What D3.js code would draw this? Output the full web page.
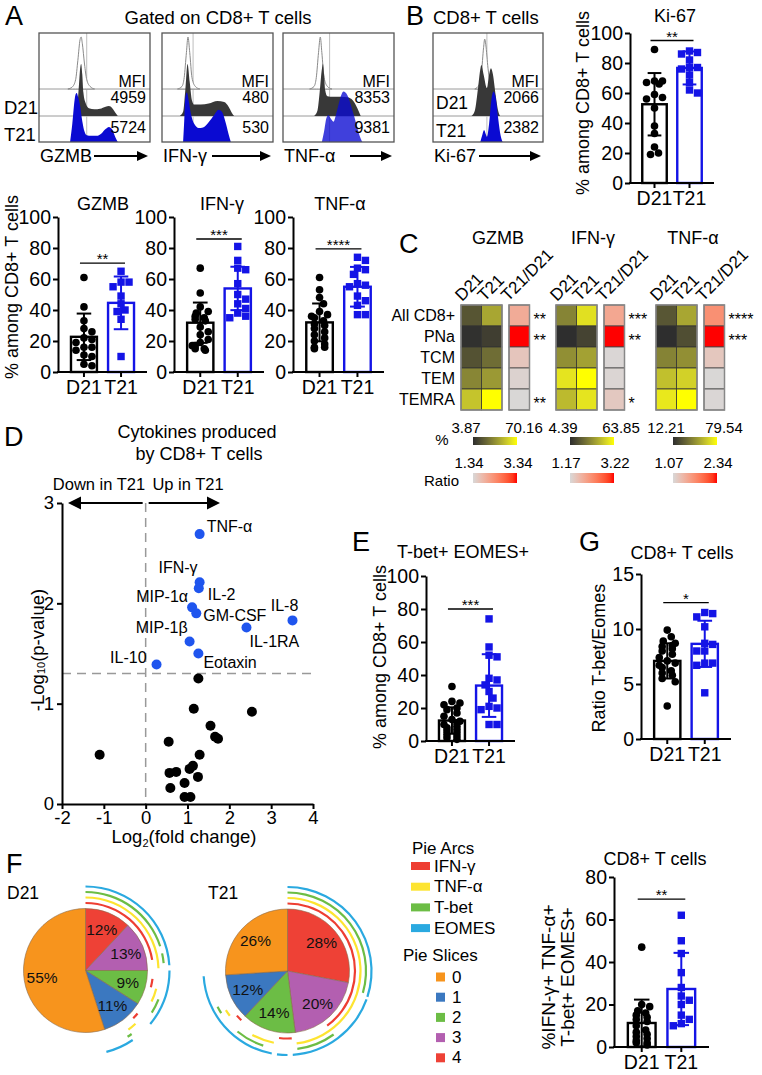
<!DOCTYPE html>
<html>
<head>
<meta charset="utf-8">
<script src="https://cdn.jsdelivr.net/npm/d3@7"></script>
<style>
html,body{margin:0;padding:0;background:#fff;}
svg{display:block;}
</style>
</head>
<body>
<svg id="fig" width="762" height="1075" xmlns="http://www.w3.org/2000/svg"></svg>
<script>
// ======================= DATA =======================
const groups = ["D21", "T21"];

// Panel A / B flow histograms: [fluorescence channel 0-100, relative count 0-100]
const gzmbIso = [[26,0],[30,4],[33,18],[35,55],[37,95],[38,100],[39,88],[41,48],[43,18],[46,5],[50,0]];
const gzmbD21h = [[32,0],[34,10],[36,60],[37,90],[38,100],[39,80],[40,45],[42,25],[45,15],[50,13],[55,14],[60,18],[63,19],[66,15],[69,6],[71,0]];
const gzmbT21h = [[28,0],[30,35],[32,80],[33,92],[34,94],[35,88],[37,70],[39,40],[41,20],[43,13],[47,12],[52,12],[56,16],[60,25],[63,29],[66,24],[69,8],[71,0]];
const ifngIso = [[14,0],[18,5],[20,22],[22,70],[23.4,100],[25,70],[27,22],[30,5],[34,0]];
const ifngD21h = [[16,0],[19,8],[21,50],[23,100],[25,65],[27,30],[29,22],[35,22],[42,24],[50,29],[56,27],[60,18],[63,6],[65,0]];
const ifngT21h = [[19,0],[20,40],[21,85],[22.4,95],[24,80],[26,55],[29,35],[33,27],[37,28],[42,38],[47,52],[51,62],[54,58],[57,40],[60,15],[62,0]];
const tnfIso = [[24,0],[28,5],[30,22],[32,70],[33.6,100],[35,70],[37,22],[40,5],[44,0]];
const tnfD21h = [[28,0],[31,10],[33,45],[35,90],[36,100],[37,80],[38,50],[40,38],[45,37],[52,37],[58,36],[63,30],[67,15],[70,0]];
const tnfT21h = [[35,0],[37,20],[39,45],[41,52],[43,45],[45.5,39],[48,55],[51,80],[54.5,97],[58,90],[62,65],[66,35],[69,12],[71.5,0]];
const ki67Iso = [[38,0],[42,8],[44,30],[46,80],[47,96],[48,85],[50,40],[52,10],[54,0]];
const ki67D21h = [[35,0],[38,10],[41,55],[43,90],[44,98],[46,80],[49,54],[51,80],[52.7,92],[54.5,80],[57,40],[59,12],[61,0]];
const ki67T21h = [[43,0],[45,15],[46.4,23],[48,15],[49,10],[51,35],[53,80],[55,97],[57,85],[59,50],[61,18],[63.3,0]];
const histMarkers = ["GZMB", "IFN-γ", "TNF-α"];
const histGates = [43, 28, 42];
const mfiD21 = ["4959", "480", "8353"];
const mfiT21 = ["5724", "530", "9381"];
const ki67Gate = 49;
const ki67Mfi = ["2066", "2382"];

// Dot/bar panels: means, SDs, individual values
const gzmbMean = [22.7, 44.6], gzmbSD = [15, 17];
const gzmbD21 = [61, 42, 33, 28, 26, 22, 21, 19, 16, 16, 14, 11, 10, 5, 4];
const gzmbT21 = [65, 58, 58, 55, 49, 44, 40, 39, 34, 10];
const ifngMean = [31.8, 53.9], ifngSD = [13, 14];
const ifngD21 = [67, 51, 42, 39, 38, 36, 35, 34, 33, 29, 26, 24, 21, 19, 17, 15, 17, 15, 14];
const ifngT21 = [81, 72, 67, 66, 57, 50, 47, 44, 41, 38, 36, 35];
const tnfMean = [32, 55], tnfSD = [12.2, 12.8];
const tnfD21 = [61, 53, 48, 44, 39, 37, 36, 35, 33, 31, 30, 28, 26, 24, 22, 20, 18, 16, 16, 15];
const tnfT21 = [74, 72, 67, 66, 63, 57, 56, 55, 49, 46, 43, 37, 37];
const ki67Mean = [52.5, 76.7], ki67SD = [20.8, 11];
const ki67D21 = [89, 68, 68, 67, 66, 59, 57, 56, 50, 38, 33, 24, 20, 19];
const ki67T21 = [88, 87, 86, 82, 77, 77, 76, 72, 67, 62, 60];
const eMean = [12.4, 33.6], eSD = [8, 19];
const eD21 = [33, 24, 23, 22, 20, 19, 17, 15, 13, 12, 11, 10, 9, 8, 7, 6, 5, 4, 3, 2, 1];
const eT21 = [74, 57, 52, 51, 38, 37, 34, 30, 26, 21, 20, 19, 10, 10];
const gMean = [7.1, 8.65], gSD = [1.6, 2.1];
const gD21 = [9.9, 9.3, 8.9, 8.7, 8.5, 8.4, 8.2, 8.0, 7.7, 7.4, 7.1, 6.9, 6.7, 6.5, 6.2, 6.0, 5.8, 5.5, 5.2, 3.0];
const gT21 = [11.5, 11.4, 11.1, 10.2, 8.7, 8.6, 8.0, 8.0, 6.9, 6.7, 6.9, 4.2];
const fMean = [11.3, 27.3], fSD = [11, 17];
const fD21 = [47, 20, 19, 17, 16, 15, 14, 13, 12, 10, 8, 7, 6, 5, 4, 3, 2, 2, 1];
const fT21 = [62, 50, 44, 35, 28, 24, 22, 20, 15, 13, 11, 10];
const pctTicks = [0, 20, 40, 60, 80, 100];
const ratioTicks = [0, 5, 10, 15];
const fTicks = [0, 20, 40, 60, 80];

// Panel C heatmap
const hmRows = ["All CD8+", "PNa", "TCM", "TEM", "TEMRA"];
const hmMarkers = ["GZMB", "IFN-γ", "TNF-α"];
const hmGzmbD21 = [18, 5, 17, 34, 53];
const hmGzmbT21 = [44, 10, 26, 40, 70.16];
const hmGzmbRatio = [1.95, 3.34, 1.6, 1.42, 1.36];
const hmGzmbStars = ["**", "**", "", "", "**"];
const hmIfngD21 = [31, 4.39, 34, 57, 46];
const hmIfngT21 = [56, 11.5, 39, 63.85, 57];
const hmIfngRatio = [1.85, 3.22, 1.2, 1.22, 1.4];
const hmIfngStars = ["***", "**", "", "", "*"];
const hmTnfD21 = [27, 12.21, 42, 61, 73];
const hmTnfT21 = [53, 24, 46, 66, 79.54];
const hmTnfRatio = [1.68, 2.34, 1.22, 1.08, 1.09];
const hmTnfStars = ["****", "***", "", "", ""];
const hmPctRange = [[3.87, 70.16], [4.39, 63.85], [12.21, 79.54]];
const hmRatioRange = [[1.34, 3.34], [1.17, 3.22], [1.07, 2.34]];

// Panel D volcano
const volcNames = ["TNF-α", "IFN-γ", "IL-2", "MIP-1α", "GM-CSF", "IL-1RA", "IL-8", "MIP-1β", "Eotaxin", "IL-10"];
const volcSigFC = [1.29, 1.29, 1.27, 1.11, 1.21, 2.41, 3.51, 1.05, 1.26, 0.26];
const volcSigP = [2.69, 2.21, 2.15, 1.96, 1.90, 1.76, 1.83, 1.62, 1.50, 1.39];
const volcNsFC = [1.26, 1.15, 2.54, 1.55, 1.66, 1.73, 0.55, -1.10, 1.29, 0.57, 0.73, 1.05, 1.13, 1.25, 0.93, 0.59, 0.93, 1.07];
const volcNsP = [1.25, 0.95, 0.92, 0.78, 0.67, 0.65, 0.62, 0.49, 0.49, 0.31, 0.32, 0.35, 0.38, 0.27, 0.21, 0.16, 0.07, 0.07];
const volcThreshold = 1.301;

// Panel F SPICE pies (% of cells by number of positive markers 0..4)
const pieCats = ["0", "1", "2", "3", "4"];
const pieD21 = [55, 11, 9, 13, 12];
const pieT21 = [26, 12, 14, 20, 28];
const arcMarkers = ["IFN-γ", "TNF-α", "T-bet", "EOMES"];
// arc segments as fractions of the circle (clockwise from 12 o'clock)
const d21ArcIFN = [[0, 0.225], [0.27, 0.29], [0.36, 0.375]];
const d21ArcTNF = [[0, 0.245], [0.29, 0.32], [0.38, 0.40]];
const d21ArcTbet = [[0, 0.20], [0.215, 0.235], [0.31, 0.34], [0.40, 0.41]];
const d21ArcEOMES = [[0, 0.24], [0.25, 0.36], [0.405, 0.46]];
const t21ArcIFN = [[0, 0.40], [0.49, 0.52], [0.62, 0.635]];
const t21ArcTNF = [[0, 0.48], [0.53, 0.58], [0.645, 0.66]];
const t21ArcTbet = [[0, 0.295], [0.40, 0.48], [0.55, 0.61], [0.66, 0.675]];
const t21ArcEOMES = [[0, 0.30], [0.305, 0.49], [0.50, 0.52], [0.53, 0.74]];

// ======================= DRAWING =======================
const FR = "'Liberation Sans', Arial, Helvetica, sans-serif";
const FN = "'Liberation Sans Narrow', 'Arial Narrow', 'Liberation Sans', Arial, sans-serif";
const BLUE = "#1414e6";
const svg = d3.select("#fig");
svg.append("rect").attr("width", 762).attr("height", 1075).attr("fill", "#fff");
const defs = svg.append("defs");

function txt(g, x, y, s, o = {}) {
  const t = g.append("text").attr("x", x).attr("y", y).text(s)
    .attr("font-family", o.ff || FR).attr("font-size", o.fs || 18)
    .attr("text-anchor", o.anchor || "start").attr("fill", o.fill || "#000");
  if (o.rot) t.attr("transform", `rotate(${o.rot},${x},${y})`);
  if (o.db) t.attr("dominant-baseline", o.db);
  return t;
}
function arrow(g, xa, xb, y, sw = 2, hl = 11, hw = 5) {
  const dir = Math.sign(xb - xa);
  g.append("line").attr("x1", xa).attr("x2", xb - dir * hl).attr("y1", y).attr("y2", y)
    .attr("stroke", "#000").attr("stroke-width", sw);
  g.append("path").attr("d", `M${xb},${y}L${xb - dir * hl},${y - hw}L${xb - dir * hl},${y + hw}Z`).attr("fill", "#000");
}

// panel letters
[["A", 5, 25], ["B", 406, 25], ["C", 399, 253], ["D", 4, 446], ["E", 352, 551], ["G", 579, 551], ["F", 6, 873]]
  .forEach(([l, x, y]) => txt(svg, x, y, l, { fs: 27 }));

// ---------- Histograms ----------
function histBox(c) {
  const g = svg.append("g");
  const x = d3.scaleLinear().domain([0, 100]).range([c.x0, c.x1]);
  const h = d3.scaleLinear().domain([0, 100]).range([0, 52]);
  const id = "clip" + c.id;
  defs.append("clipPath").attr("id", id).append("rect")
    .attr("x", c.x0).attr("y", c.yTop).attr("width", c.x1 - c.x0).attr("height", c.yBot - c.yTop);
  const inner = g.append("g").attr("clip-path", `url(#${id})`);
  [c.yL1, c.yL2].forEach(yy => inner.append("line").attr("x1", c.x0).attr("x2", c.x1)
    .attr("y1", yy).attr("y2", yy).attr("stroke", "#9a9a9a").attr("stroke-width", 1));
  inner.append("line").attr("x1", x(c.gate)).attr("x2", x(c.gate)).attr("y1", c.yTop).attr("y2", c.yBot)
    .attr("stroke", "#bdbdbd").attr("stroke-width", 1);
  const area = base => d3.area().x(d => x(d[0])).y0(base).y1(d => base - h(d[1])).curve(d3.curveMonotoneX);
  inner.append("path").datum(c.iso).attr("d", area(c.yL1)).attr("fill", "#fff").attr("stroke", "#8a8a8a").attr("stroke-width", 1);
  inner.append("path").datum(c.d21).attr("d", area(c.yL2)).attr("fill", "#383838");
  inner.append("path").datum(c.t21).attr("d", area(c.yBot)).attr("fill", "#0a0ad2").attr("fill-opacity", c.op);
  g.append("rect").attr("x", c.x0).attr("y", c.yTop).attr("width", c.x1 - c.x0).attr("height", c.yBot - c.yTop)
    .attr("fill", "none").attr("stroke", "#555").attr("stroke-width", 1.3);
  txt(g, c.x1 - 4, 87, "MFI", { anchor: "end", fs: 16 });
  txt(g, c.x1 - 4, 103, c.mfi[0], { anchor: "end", fs: 16 });
  txt(g, c.x1 - 4, 133, c.mfi[1], { anchor: "end", fs: 16 });
  txt(g, c.x0 + 1, 162, c.label, { fs: 18 });
  arrow(g, c.arrowX, c.x1 - 2, 156);
  return g;
}
const histIso = [gzmbIso, ifngIso, tnfIso], histD = [gzmbD21h, ifngD21h, tnfD21h], histT = [gzmbT21h, ifngT21h, tnfT21h];
const histX0 = [39, 162, 283], histArrowX = [94, 212, 350], histOp = [1, 1, 0.78];
histMarkers.forEach((m, i) => histBox({
  id: i, x0: histX0[i], x1: histX0[i] + 111, yTop: 33, yL1: 89, yL2: 116, yBot: 142,
  iso: histIso[i], d21: histD[i], t21: histT[i], gate: histGates[i], op: histOp[i],
  mfi: [mfiD21[i], mfiT21[i]], label: m, arrowX: histArrowX[i]
}));
txt(svg, 4, 114, "D21", { fs: 18.5 });
txt(svg, 4, 141, "T21", { fs: 18.5 });
txt(svg, 218, 24, "Gated on CD8+ T cells", { anchor: "middle", fs: 18.5 });

const kb = histBox({
  id: "k", x0: 433, x1: 543, yTop: 33, yL1: 89, yL2: 116, yBot: 142,
  iso: ki67Iso, d21: ki67D21h, t21: ki67T21h, gate: ki67Gate, op: 1,
  mfi: ki67Mfi, label: "Ki-67", arrowX: 479
});
txt(kb, 436, 109, "D21", { fs: 17.5 });
txt(kb, 436, 137, "T21", { fs: 17.5 });
txt(svg, 433, 24, "CD8+ T cells", { fs: 18.5 });

// ---------- Dot + bar charts ----------
function swarm(vals, y, cx, r, maxOff) {
  const pts = vals.map(v => ({ v, py: y(v) })).sort((a, b) => a.py - b.py);
  const placed = [];
  pts.forEach(p => {
    const steps = [0];
    for (let k = 1; k <= 8; k++) steps.push(k * r * 1.05, -k * r * 1.05);
    for (const dx of steps) {
      if (Math.abs(dx) > maxOff) continue;
      if (placed.every(q => Math.hypot(q.px - (cx + dx), q.py - p.py) >= 2 * r * 0.92)) { p.px = cx + dx; break; }
    }
    if (p.px === undefined) p.px = cx + (placed.length % 2 ? -1 : 1) * maxOff * 0.5;
    placed.push(p);
  });
  return placed;
}
function dotBar(c) {
  const g = svg.append("g");
  const x = d3.scaleBand().domain(groups).range([c.axisX, c.axisX + c.plotW]).paddingInner(0.3).paddingOuter(0.35);
  const y = d3.scaleLinear().domain([0, c.ymax]).range([c.y0, c.yTop]);
  const bw = x.bandwidth();
  const cols = ["#000", BLUE];
  g.selectAll("rect.bar").data(groups).join("rect").attr("class", "bar")
    .attr("x", d => x(d)).attr("width", bw)
    .attr("y", (d, i) => y(c.mean[i])).attr("height", (d, i) => y(0) - y(c.mean[i]))
    .attr("fill", "none").attr("stroke", (d, i) => cols[i]).attr("stroke-width", 2.4);
  groups.forEach((grp, i) => {
    const cx = x(grp) + bw / 2;
    const placed = swarm(c.pts[i], y, cx, 3.8, bw / 2 - 3);
    if (i === 0) {
      g.selectAll(null).data(placed).join("circle").attr("cx", d => d.px).attr("cy", d => d.py).attr("r", 3.8).attr("fill", "#000");
    } else {
      g.selectAll(null).data(placed).join("rect").attr("x", d => d.px - 3.7).attr("y", d => d.py - 3.7)
        .attr("width", 7.4).attr("height", 7.4).attr("fill", BLUE);
    }
    const lo = y(Math.max(0, c.mean[i] - c.sd[i])), hi = y(c.mean[i] + c.sd[i]);
    g.append("line").attr("x1", cx).attr("x2", cx).attr("y1", lo).attr("y2", hi).attr("stroke", cols[i]).attr("stroke-width", 2);
    [lo, hi].forEach(yy => g.append("line").attr("x1", cx - bw * 0.28).attr("x2", cx + bw * 0.28)
      .attr("y1", yy).attr("y2", yy).attr("stroke", cols[i]).attr("stroke-width", 2));
  });
  const ya = g.append("g").attr("transform", `translate(${c.axisX},0)`)
    .call(d3.axisLeft(y).tickValues(c.ticks).tickSize(5).tickPadding(2).tickSizeOuter(0));
  ya.select(".domain").attr("stroke-width", 2);
  ya.selectAll(".tick line").attr("stroke-width", 2);
  ya.selectAll(".tick text").attr("font-family", FN).attr("font-size", 19.5).attr("fill", "#000");
  g.append("line").attr("x1", c.axisX - 1).attr("x2", c.axisX + c.plotW).attr("y1", c.y0).attr("y2", c.y0)
    .attr("stroke", "#000").attr("stroke-width", 2);
  groups.forEach(grp => {
    const cx = x(grp) + bw / 2;
    g.append("line").attr("x1", cx).attr("x2", cx).attr("y1", c.y0).attr("y2", c.y0 + 5).attr("stroke", "#000").attr("stroke-width", 2);
    txt(g, cx, c.y0 + 22, grp, { anchor: "middle", ff: FN, fs: 19.5 });
  });
  const c1 = x("D21") + bw / 2, c2 = x("T21") + bw / 2, sy = y(c.sig[0]);
  g.append("line").attr("x1", c1 - 4).attr("x2", c2 + 4).attr("y1", sy).attr("y2", sy).attr("stroke", "#000").attr("stroke-width", 1.3);
  txt(g, (c1 + c2) / 2, sy + 1, c.sig[1], { anchor: "middle", fs: 15 });
  if (c.title) txt(g, c.title[1], c.title[2], c.title[0], { anchor: "middle", fs: 18 });
  return g;
}
dotBar({ axisX: 58, plotW: 89, y0: 372, yTop: 217, ymax: 100, ticks: pctTicks, mean: gzmbMean, sd: gzmbSD,
  pts: [gzmbD21, gzmbT21], sig: [70.3, "**"], title: ["GZMB", 103, 210] });
dotBar({ axisX: 174, plotW: 90, y0: 372, yTop: 217, ymax: 100, ticks: pctTicks, mean: ifngMean, sd: ifngSD,
  pts: [ifngD21, ifngT21], sig: [85.8, "***"], title: ["IFN-γ", 222, 210] });
dotBar({ axisX: 293, plotW: 91, y0: 372, yTop: 217, ymax: 100, ticks: pctTicks, mean: tnfMean, sd: tnfSD,
  pts: [tnfD21, tnfT21], sig: [79.4, "****"], title: ["TNF-α", 340, 210] });
txt(svg, 12, 287, "% among CD8+ T cells", { anchor: "middle", fs: 18, rot: -90, db: "central" });

dotBar({ axisX: 630, plotW: 84, y0: 183, yTop: 33, ymax: 100, ticks: pctTicks, mean: ki67Mean, sd: ki67SD,
  pts: [ki67D21, ki67T21], sig: [95, "**"], title: ["Ki-67", 675, 22] });
txt(svg, 583, 103, "% among CD8+ T cells", { anchor: "middle", fs: 18, rot: -90, db: "central" });

dotBar({ axisX: 426, plotW: 89, y0: 741, yTop: 576, ymax: 100, ticks: pctTicks, mean: eMean, sd: eSD,
  pts: [eD21, eT21], sig: [80, "***"], title: ["T-bet+ EOMES+", 463, 558] });
txt(svg, 380, 657, "% among CD8+ T cells", { anchor: "middle", fs: 18, rot: -90, db: "central" });

dotBar({ axisX: 641, plotW: 90, y0: 739, yTop: 574, ymax: 15, ticks: ratioTicks, mean: gMean, sd: gSD,
  pts: [gD21, gT21], sig: [12.4, "*"], title: ["CD8+ T cells", 682, 559] });
txt(svg, 599, 658, "Ratio T-bet/Eomes", { anchor: "middle", fs: 18, rot: -90, db: "central" });

dotBar({ axisX: 614, plotW: 95, y0: 1047, yTop: 877, ymax: 80, ticks: fTicks, mean: fMean, sd: fSD,
  pts: [fD21, fT21], sig: [69.6, "**"], title: ["CD8+ T cells", 655, 865] });
txt(svg, 548, 977, "%IFN-γ+ TNF-α+", { anchor: "middle", fs: 19, rot: -90, db: "central" });
txt(svg, 567, 977, "T-bet+ EOMES+", { anchor: "middle", fs: 19, rot: -90, db: "central" });

// ---------- Heatmap (C) ----------
(function () {
  const g = svg.append("g");
  const blockX = [461, 556, 656], legX = [473, 570, 673];
  const yb = d3.scaleBand().domain(hmRows).range([305, 410]);
  const dD21 = [hmGzmbD21, hmIfngD21, hmTnfD21], dT21 = [hmGzmbT21, hmIfngT21, hmTnfT21];
  const dR = [hmGzmbRatio, hmIfngRatio, hmTnfRatio], dS = [hmGzmbStars, hmIfngStars, hmTnfStars];
  hmRows.forEach(r => txt(g, 455, yb(r) + yb.bandwidth() / 2, r, { anchor: "end", fs: 16, db: "central" }));
  hmMarkers.forEach((m, k) => {
    const bx = blockX[k];
    const xc = d3.scaleBand().domain(groups).range([bx, bx + 41]);
    const rx = bx + 48, rw = 20.5;
    const pc = d3.scaleLinear().domain(hmPctRange[k]).range(["#2e2e2e", "#ffff00"]).interpolate(d3.interpolateLab);
    const rc = d3.scaleLinear().domain(hmRatioRange[k]).range(["#d8d8d8", "#ff0000"]).interpolate(d3.interpolateLab);
    txt(g, bx + 37, 244, m, { anchor: "middle", fs: 18 });
    hmRows.forEach((r, i) => {
      [dD21[k], dT21[k]].forEach((arr, j) => g.append("rect").attr("x", xc(groups[j])).attr("y", yb(r))
        .attr("width", xc.bandwidth()).attr("height", yb.bandwidth()).attr("fill", pc(arr[i]))
        .attr("stroke", "#333").attr("stroke-width", 0.8));
      g.append("rect").attr("x", rx).attr("y", yb(r)).attr("width", rw).attr("height", yb.bandwidth())
        .attr("fill", rc(dR[k][i])).attr("stroke", "#444").attr("stroke-width", 0.8);
      if (dS[k][i]) txt(g, rx + rw + 4, yb(r) + yb.bandwidth() / 2 + 9, dS[k][i], { fs: 16 });
    });
    g.append("rect").attr("x", bx).attr("y", 305).attr("width", 41).attr("height", 105).attr("fill", "none").attr("stroke", "#888").attr("stroke-width", 1.5);
    g.append("rect").attr("x", rx).attr("y", 305).attr("width", rw).attr("height", 105).attr("fill", "none").attr("stroke", "#888").attr("stroke-width", 1.5);
    // rotated column headers
    [[xc("D21") + 1, "D21"], [xc("T21") + 3, "T21"], [rx - 1, "T21/D21"]].forEach(([hx, s]) =>
      txt(g, hx, 302, s, { fs: 17, rot: -45 }));
    // gradient legends
    const gp = defs.append("linearGradient").attr("id", "gp" + k);
    const gr = defs.append("linearGradient").attr("id", "gr" + k);
    d3.range(0, 1.0001, 0.1).forEach(t => {
      gp.append("stop").attr("offset", t).attr("stop-color", pc(hmPctRange[k][0] + t * (hmPctRange[k][1] - hmPctRange[k][0])));
      gr.append("stop").attr("offset", t).attr("stop-color", rc(hmRatioRange[k][0] + t * (hmRatioRange[k][1] - hmRatioRange[k][0])));
    });
    const lx = legX[k];
    g.append("rect").attr("x", lx).attr("y", 437).attr("width", 44).attr("height", 8).attr("fill", `url(#gp${k})`);
    g.append("rect").attr("x", lx).attr("y", 473).attr("width", 44).attr("height", 10).attr("fill", `url(#gr${k})`);
    txt(g, lx - 7, 433, String(hmPctRange[k][0]), { anchor: "middle", fs: 15 });
    txt(g, lx + 51, 433, String(hmPctRange[k][1]), { anchor: "middle", fs: 15 });
    txt(g, lx - 4, 468, String(hmRatioRange[k][0]), { anchor: "middle", fs: 15 });
    txt(g, lx + 45, 468, String(hmRatioRange[k][1]), { anchor: "middle", fs: 15 });
  });
  txt(g, 442, 445, "%", { anchor: "middle", fs: 15 });
  txt(g, 459, 486, "Ratio", { anchor: "end", fs: 15 });
})();

// ---------- Volcano (D) ----------
(function () {
  const g = svg.append("g");
  const vx = d3.scaleLinear().domain([-2, 4]).range([62, 313]);
  const vy = d3.scaleLinear().domain([0, 3]).range([804, 503]);
  txt(g, 197, 438, "Cytokines produced", { anchor: "middle", fs: 18 });
  txt(g, 199, 460, "by CD8+ T cells", { anchor: "middle", fs: 18 });
  txt(g, 99, 490, "Down in T21", { anchor: "middle", fs: 16.5 });
  txt(g, 188, 490, "Up in T21", { anchor: "middle", fs: 16.5 });
  arrow(g, vx(0) - 3, 68, vy(3), 2, 13, 6.5);
  arrow(g, vx(0) + 3, 220, vy(3), 2, 13, 6.5);
  g.append("line").attr("x1", vx(0)).attr("x2", vx(0)).attr("y1", vy(3)).attr("y2", vy(0))
    .attr("stroke", "#999").attr("stroke-width", 1.5).attr("stroke-dasharray", "9,6");
  g.append("line").attr("x1", vx(-2)).attr("x2", vx(4)).attr("y1", vy(volcThreshold)).attr("y2", vy(volcThreshold))
    .attr("stroke", "#999").attr("stroke-width", 1.5).attr("stroke-dasharray", "9,6");
  const ya = g.append("g").attr("transform", `translate(${vx(-2)},0)`)
    .call(d3.axisLeft(vy).tickValues([0, 1, 2, 3]).tickSize(5).tickPadding(3).tickSizeOuter(0).tickFormat(d => String(d)));
  const xa = g.append("g").attr("transform", `translate(0,${vy(0)})`)
    .call(d3.axisBottom(vx).tickValues([-2, -1, 0, 1, 2, 3, 4]).tickSize(5).tickPadding(2).tickSizeOuter(0).tickFormat(d => String(d)));
  [ya, xa].forEach(a => {
    a.select(".domain").attr("stroke-width", 2);
    a.selectAll(".tick line").attr("stroke-width", 2);
    a.selectAll(".tick text").attr("font-family", FR).attr("font-size", 18.5).attr("fill", "#000");
  });
  const yt = txt(g, 37, 650, "-Log", { anchor: "middle", fs: 18.5, rot: -90, db: "central" });
  yt.append("tspan").attr("font-size", 11).attr("dy", 4).text("10");
  yt.append("tspan").attr("dy", -4).text("(p-value)");
  const xt = txt(g, 184, 843, "Log", { anchor: "middle", fs: 18.5 });
  xt.append("tspan").attr("font-size", 11).attr("dy", 4).text("2");
  xt.append("tspan").attr("dy", -4).text("(fold change)");
  g.selectAll(null).data(d3.range(volcNsFC.length)).join("circle")
    .attr("cx", i => vx(volcNsFC[i])).attr("cy", i => vy(volcNsP[i])).attr("r", 5).attr("fill", "#000");
  g.selectAll(null).data(d3.range(volcNames.length)).join("circle")
    .attr("cx", i => vx(volcSigFC[i])).attr("cy", i => vy(volcSigP[i])).attr("r", 5).attr("fill", "#1f55ee");
  const lab = { "TNF-α": [7, -8, "start"], "IFN-γ": [-2, -15, "end"], "IL-2": [9, 6, "start"], "MIP-1α": [-4, -11, "end"],
    "GM-CSF": [7, 2, "start"], "IL-1RA": [3, 14, "start"], "IL-8": [-8, -15, "middle"], "MIP-1β": [-2, -14, "end"],
    "Eotaxin": [5, 9, "start"], "IL-10": [-10, -7, "end"] };
  volcNames.forEach((n, i) => {
    const o = lab[n];
    txt(g, vx(volcSigFC[i]) + o[0], vy(volcSigP[i]) + o[1], n, { anchor: o[2], fs: 16, db: "central" });
  });
})();

// ---------- Pies (F) ----------
(function () {
  const g = svg.append("g");
  const pieColors = ["#f7941d", "#3b78c0", "#6cbd45", "#b35fb0", "#ee4136"];
  const arcColors = ["#ee3e32", "#fde431", "#6cbd45", "#2aa9e0"];
  const R = 62;
  const order = [4, 3, 2, 1, 0];
  const pie = d3.pie().sort(null).value(d => d.v);
  const arc = d3.arc().innerRadius(0).outerRadius(R);
  const labArc = d3.arc().innerRadius(44).outerRadius(44);
  const pies = [
    { name: "D21", cx: 85.5, cy: 970.5, vals: pieD21, arcs: [d21ArcIFN, d21ArcTNF, d21ArcTbet, d21ArcEOMES], lx: 7 },
    { name: "T21", cx: 287.5, cy: 971, vals: pieT21, arcs: [t21ArcIFN, t21ArcTNF, t21ArcTbet, t21ArcEOMES], lx: 208 }
  ];
  pies.forEach(p => {
    txt(g, p.lx, 899, p.name, { fs: 17.5 });
    const pg = g.append("g").attr("transform", `translate(${p.cx},${p.cy})`);
    const data = pie(order.map(c => ({ c, v: p.vals[c] })));
    pg.selectAll(null).data(data).join("path").attr("d", arc).attr("fill", d => pieColors[d.data.c])
      .attr("stroke", "#8a6a4a").attr("stroke-width", 0.6);
    pg.selectAll(null).data(data).join("text").attr("transform", d => `translate(${labArc.centroid(d)})`)
      .attr("text-anchor", "middle").attr("dominant-baseline", "central").attr("font-family", FR).attr("font-size", 15.5)
      .attr("fill", "#111").text(d => d.data.v + "%");
    p.arcs.forEach((segs, k) => {
      const rr = R + 5.5 * (k + 1);
      const ring = d3.arc().innerRadius(rr - 1.1).outerRadius(rr + 1.1);
      pg.selectAll(null).data(segs).join("path")
        .attr("d", s => ring({ startAngle: s[0] * 2 * Math.PI, endAngle: s[1] * 2 * Math.PI }))
        .attr("fill", arcColors[k]);
    });
  });
  // legend
  txt(g, 412, 854, "Pie Arcs", { fs: 17 });
  arcMarkers.forEach((m, k) => {
    const yy = 866 + k * 20.7;
    g.append("rect").attr("x", 411).attr("y", yy - 4).attr("width", 19).attr("height", 8).attr("fill", arcColors[k]);
    txt(g, 434, yy, m, { fs: 17, db: "central" });
  });
  txt(g, 403, 961, "Pie Slices", { fs: 17 });
  pieCats.forEach((c, i) => {
    const yy = 977 + i * 20.2;
    g.append("rect").attr("x", 436).attr("y", yy - 4.5).attr("width", 9).attr("height", 9).attr("fill", pieColors[i]);
    txt(g, 452, yy, c, { fs: 17, db: "central" });
  });
})();
</script>
</body>
</html>
